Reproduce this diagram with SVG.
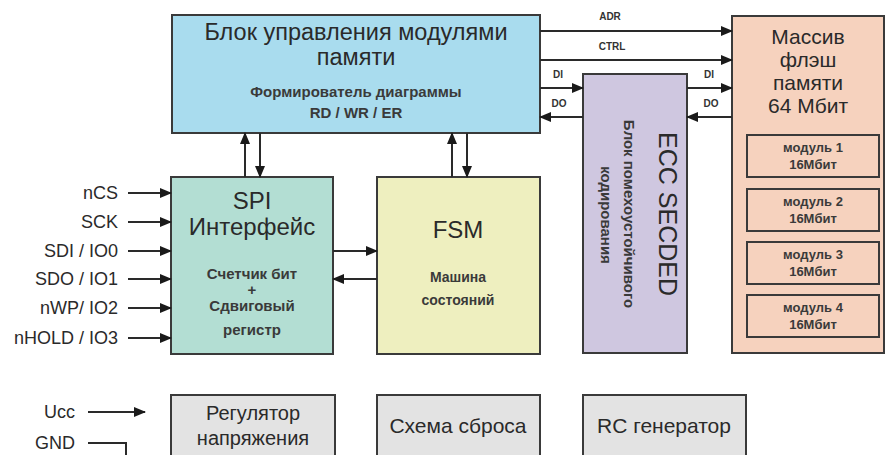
<svg xmlns="http://www.w3.org/2000/svg" width="885" height="455" viewBox="0 0 885 455">
<style>
  .box{stroke:#3a3a3a;stroke-width:2}
  .t{font-family:"Liberation Sans",Arial,sans-serif;fill:#2a2a2a;text-anchor:middle}
  .b{font-weight:bold;fill:#3a3a3a}
  .lbl{font-family:"Liberation Sans",Arial,sans-serif;fill:#2a2a2a;text-anchor:end;font-size:18px}
  .sm{font-family:"Liberation Sans",Arial,sans-serif;fill:#333;text-anchor:middle;font-size:10px;font-weight:bold}
  .ln{stroke:#2a2a2a;stroke-width:2;fill:none}
  .arr{marker-end:url(#ah)}
</style>
<defs>
  <marker id="ah" markerUnits="userSpaceOnUse" markerWidth="12" markerHeight="10" refX="11" refY="5" orient="auto">
    <path d="M0,0 L12,5 L0,10 z" fill="#1a1a1a"/>
  </marker>
</defs>
<rect width="885" height="455" fill="#ffffff"/>

<g id="control">
  <rect class="box" x="172" y="15" width="368" height="118" fill="#a9dcee"/>
  <text class="t" x="356" y="40" font-size="23.5">Блок управления модулями</text>
  <text class="t" x="356" y="65" font-size="23.5">памяти</text>
  <text class="t b" x="356" y="97" font-size="15">Формирователь диаграммы</text>
  <text class="t b" x="356" y="118" font-size="15">RD / WR / ER</text>
</g>

<g id="memory">
  <rect class="box" x="732" y="16" width="152" height="337" fill="#f6d2be"/>
  <text class="t" x="808" y="44" font-size="21">Массив</text>
  <text class="t" x="808" y="67" font-size="21">флэш</text>
  <text class="t" x="808" y="90" font-size="21">памяти</text>
  <text class="t" x="808" y="113" font-size="21">64 Мбит</text>
  <g id="mod1"><rect class="box" x="747" y="135" width="132" height="42" fill="#f6d2be"/>
    <text class="t b" x="813" y="152" font-size="13">модуль 1</text><text class="t b" x="813" y="169" font-size="13">16Мбит</text></g>
  <g id="mod2"><rect class="box" x="747" y="189" width="132" height="42" fill="#f6d2be"/>
    <text class="t b" x="813" y="206" font-size="13">модуль 2</text><text class="t b" x="813" y="223" font-size="13">16Мбит</text></g>
  <g id="mod3"><rect class="box" x="747" y="242" width="132" height="42" fill="#f6d2be"/>
    <text class="t b" x="813" y="259" font-size="13">модуль 3</text><text class="t b" x="813" y="276" font-size="13">16Мбит</text></g>
  <g id="mod4"><rect class="box" x="747" y="295" width="132" height="42" fill="#f6d2be"/>
    <text class="t b" x="813" y="312" font-size="13">модуль 4</text><text class="t b" x="813" y="329" font-size="13">16Мбит</text></g>
</g>

<g id="ecc">
  <rect class="box" x="583" y="74" width="104" height="279" fill="#cfc7e0"/>
  <text class="t" font-size="25" transform="translate(659,214) rotate(90)">ECC SECDED</text>
  <text class="t b" font-size="15" transform="translate(624,214) rotate(90)">Блок помехоустойчивого</text>
  <text class="t b" font-size="15" transform="translate(601,215) rotate(90)">кодирования</text>
</g>

<g id="spi">
  <rect class="box" x="171" y="177" width="162" height="177" fill="#b3ded3"/>
  <text class="t" x="252" y="209" font-size="24">SPI</text>
  <text class="t" x="252" y="235" font-size="24">Интерфейс</text>
  <text class="t b" x="252" y="279" font-size="15">Счетчик бит</text>
  <text class="t b" x="252" y="295" font-size="15">+</text>
  <text class="t b" x="252" y="311" font-size="15">Сдвиговый</text>
  <text class="t b" x="252" y="335" font-size="15">регистр</text>
</g>

<g id="fsm">
  <rect class="box" x="377" y="177" width="163" height="177" fill="#eeefbf"/>
  <text class="t" x="458" y="238" font-size="24">FSM</text>
  <text class="t b" x="458" y="282" font-size="14">Машина</text>
  <text class="t b" x="458" y="305" font-size="14">состояний</text>
</g>

<g id="regulator">
  <rect class="box" x="171" y="395" width="164" height="75" fill="#e3e3e3"/>
  <text class="t" x="253" y="420" font-size="20">Регулятор</text>
  <text class="t" x="253" y="445" font-size="20">напряжения</text>
</g>
<g id="reset">
  <rect class="box" x="377" y="395" width="163" height="75" fill="#e3e3e3"/>
  <text class="t" x="458" y="433" font-size="21">Схема сброса</text>
</g>
<g id="rcgen">
  <rect class="box" x="583" y="395" width="163" height="75" fill="#e3e3e3"/>
  <text class="t" x="664" y="433" font-size="21">RC генератор</text>
</g>

<g id="connectors">
  <path class="ln arr" d="M540,31 H732"/>
  <path class="ln arr" d="M540,60 H732"/>
  <path class="ln arr" d="M540,88 H583"/>
  <path class="ln arr" d="M583,117 H540"/>
  <path class="ln arr" d="M687,88 H732"/>
  <path class="ln arr" d="M732,117 H687"/>
  <path class="ln arr" d="M245,177 V133"/>
  <path class="ln arr" d="M260,133 V177"/>
  <path class="ln arr" d="M452,177 V133"/>
  <path class="ln arr" d="M467,133 V177"/>
  <path class="ln arr" d="M333,251 H377"/>
  <path class="ln arr" d="M377,279 H333"/>
  <path class="ln arr" d="M128,193 H171"/>
  <path class="ln arr" d="M128,222 H171"/>
  <path class="ln arr" d="M128,251 H171"/>
  <path class="ln arr" d="M128,279 H171"/>
  <path class="ln arr" d="M128,308 H171"/>
  <path class="ln arr" d="M128,338 H171"/>
  <path class="ln arr" d="M88,412 H145"/>
  <path class="ln" d="M88,443 H126 V460"/>
</g>

<g id="labels">
  <text class="sm" x="610" y="20">ADR</text>
  <text class="sm" x="612" y="50">CTRL</text>
  <text class="sm" x="558" y="78">DI</text>
  <text class="sm" x="559" y="107">DO</text>
  <text class="sm" x="709" y="78">DI</text>
  <text class="sm" x="711" y="107">DO</text>
  <text class="lbl" x="118" y="199">nCS</text>
  <text class="lbl" x="118" y="228">SCK</text>
  <text class="lbl" x="118" y="257">SDI / IO0</text>
  <text class="lbl" x="118" y="285">SDO / IO1</text>
  <text class="lbl" x="118" y="314">nWP/ IO2</text>
  <text class="lbl" x="118" y="344">nHOLD / IO3</text>
  <text class="lbl" x="75" y="418">Ucc</text>
  <text class="lbl" x="75" y="449">GND</text>
</g>
</svg>
